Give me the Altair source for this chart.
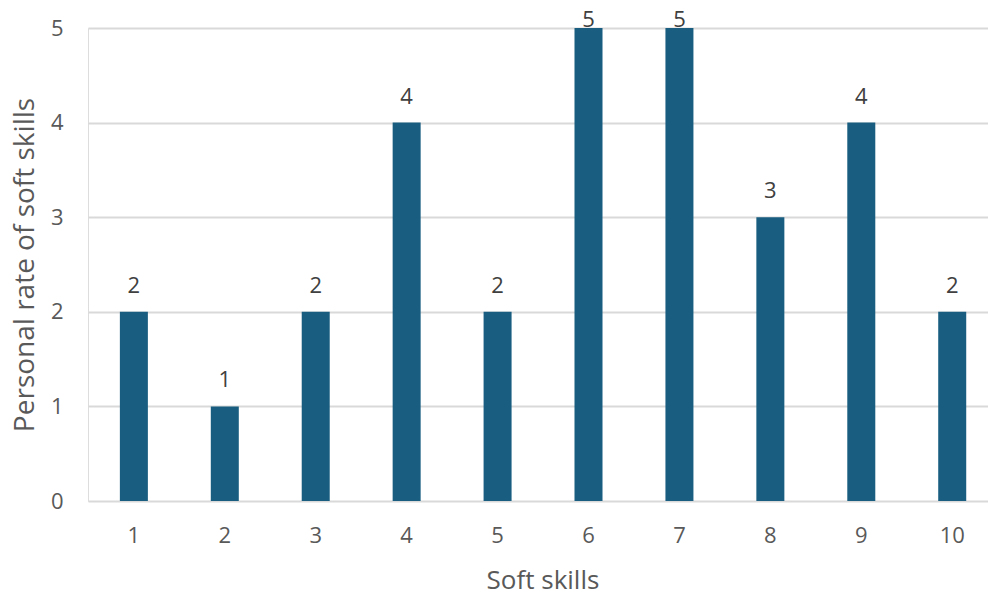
import altair as alt
import pandas as pd

skills = [str(i) for i in range(1, 11)]
ratings = [2, 1, 2, 4, 2, 5, 5, 3, 4, 2]

df = pd.DataFrame({"skill": skills, "rating": ratings})

FONT = "Open Sans"
BAR = "#195e80"

x_enc = alt.X(
    "skill:N",
    sort=skills,
    scale=alt.Scale(paddingInner=0.692, paddingOuter=0.295, align=0.594),
    axis=alt.Axis(
        title="Soft skills",
        labelAngle=0,
        labelFontSize=22,
        labelColor="#595959",
        labelPadding=24,
        labelFont=FONT,
        ticks=False,
        domain=False,
        grid=False,
        titleFont=FONT,
        titleFontSize=26,
        titleFontWeight="normal",
        titleColor="#595959",
        titleX=454.5,
        titleY=87,
        titleBaseline="alphabetic",
    ),
)

bars = alt.Chart(df).mark_bar(color=BAR).encode(
    x=x_enc,
    y=alt.Y(
        "rating:Q",
        scale=alt.Scale(domain=[0, 5], nice=False),
        axis=alt.Axis(
            title="Personal rate of soft skills",
            values=[0, 1, 2, 3, 4, 5],
            format="d",
            labelFontSize=22,
            labelColor="#595959",
            labelFont=FONT,
            labelPadding=25,
            ticks=False,
            domain=False,
            gridColor="#d9d9d9",
            gridWidth=2,
            titleFont=FONT,
            titleFontSize=28,
            titleFontWeight="normal",
            titleColor="#595959",
            titleAngle=270,
            titleX=-55,
            titleY=236.5,
            titleBaseline="alphabetic",
        ),
    ),
)

labels = alt.Chart(df).transform_calculate(
    ly="min(datum.rating + 0.2, 5.01)"
).mark_text(
    font=FONT, fontSize=22, color="#404040", baseline="alphabetic", align="center"
).encode(
    x=alt.X("skill:N", sort=skills),
    y=alt.Y("ly:Q"),
    text=alt.Text("rating:Q"),
)

chart = alt.layer(bars, labels).properties(
    width=900,
    height=473,
    autosize=alt.AutoSizeParams(type="none"),
    padding={"left": 88, "top": 28, "right": 0, "bottom": 95},
).configure_view(stroke=None).configure(background="white")

chart.save("out.html", embed_options={"renderer": "svg", "actions": False})
